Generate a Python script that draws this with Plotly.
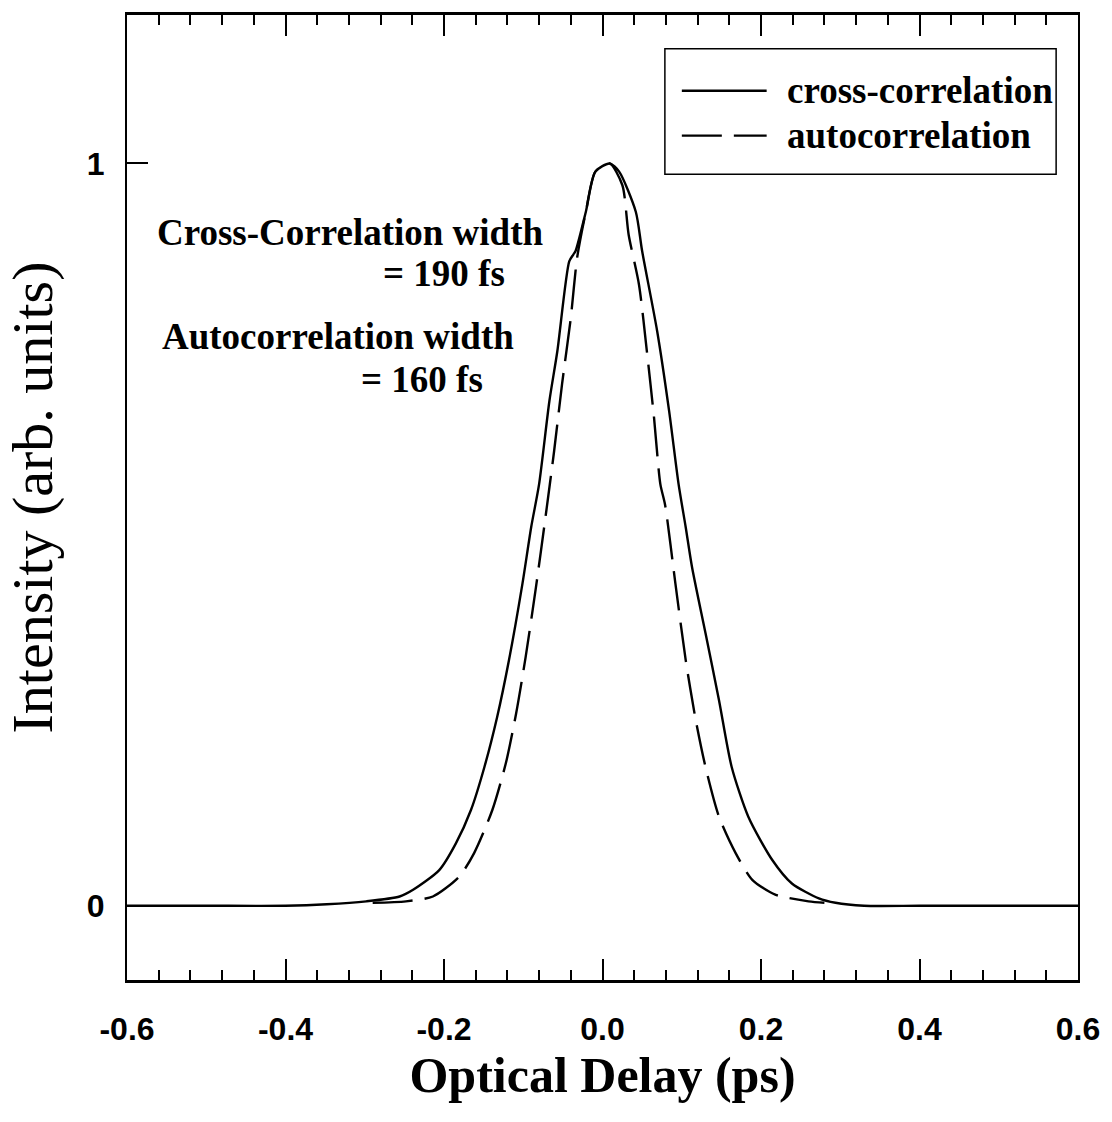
import plotly.graph_objects as go

# Cross-correlation (solid)
cross_x = [-0.60, -0.50, -0.40, -0.348, -0.298, -0.256, -0.239, -0.206, -0.185, -0.166,
           -0.149, -0.133, -0.118, -0.101, -0.090, -0.080, -0.067, -0.057, -0.042, -0.037,
           -0.034, -0.021, -0.009, 0.009, 0.021, 0.042, 0.050, 0.069, 0.084, 0.096,
           0.105, 0.113, 0.130, 0.147, 0.163, 0.184, 0.214, 0.239, 0.273, 0.294,
           0.33, 0.40, 0.50, 0.60]
cross_y = [0.0, 0.0, 0.0, 0.002, 0.006, 0.0125, 0.0215, 0.048, 0.084, 0.129,
           0.187, 0.254, 0.331, 0.434, 0.510, 0.568, 0.680, 0.747, 0.868, 0.877,
           0.882, 0.935, 0.989, 1.0, 0.989, 0.935, 0.882, 0.774, 0.667, 0.568,
           0.510, 0.456, 0.367, 0.277, 0.187, 0.120, 0.062, 0.030, 0.010, 0.004,
           0.0, 0.0, 0.0, 0.0]

# Autocorrelation (dashed)
auto_x = [-0.29, -0.248, -0.214, -0.181, -0.162, -0.139, -0.122, -0.109, -0.097, -0.084,
          -0.072, -0.061, -0.051, -0.040, -0.032, -0.021, -0.009, 0.009, 0.025, 0.033,
          0.046, 0.056, 0.065, 0.073, 0.079, 0.092, 0.105, 0.117, 0.130, 0.147,
          0.168, 0.189, 0.218, 0.260, 0.28]
auto_y = [0.004, 0.006, 0.0125, 0.039, 0.071, 0.129, 0.192, 0.259, 0.335, 0.429,
          0.523, 0.613, 0.703, 0.792, 0.873, 0.935, 0.989, 1.0, 0.971, 0.904,
          0.837, 0.747, 0.658, 0.568, 0.54, 0.434, 0.331, 0.254, 0.187, 0.120,
          0.071, 0.035, 0.015, 0.006, 0.004]

x_ticks = [-0.6, -0.4, -0.2, 0.0, 0.2, 0.4, 0.6]
x_ticktext = ["-0.6", "-0.4", "-0.2", "0.0", "0.2", "0.4", "0.6"]
y_ticks = [0, 1]
y_ticktext = ["0", "1"]

series_names = ["cross-correlation", "autocorrelation"]
notes = ["Cross-Correlation width", "= 190 fs", "Autocorrelation width", "= 160 fs"]

SERIF = "Liberation Serif, Times New Roman, serif"
SANS = "Liberation Sans, Arial, sans-serif"
DASH = "40px,12px"

fig = go.Figure()
fig.add_trace(go.Scatter(x=cross_x, y=cross_y, mode="lines", name=series_names[0],
                         line=dict(color="black", width=2.4, shape="spline", smoothing=0.7),
                         showlegend=False))
fig.add_trace(go.Scatter(x=auto_x, y=auto_y, mode="lines", name=series_names[1],
                         line=dict(color="black", width=2.4, dash=DASH, shape="spline", smoothing=0.7),
                         showlegend=False))

# custom legend box
L0, L1, B0, B1 = 0.5656, 0.977, 0.835, 0.965
fig.add_shape(type="rect", xref="paper", yref="paper", x0=L0, x1=L1, y0=B0, y1=B1,
              line=dict(color="black", width=1.5), fillcolor="white", layer="above")
row_y = [(980 - 88) / 968, (980 - 133) / 968]
lx0 = (683 - 127) / 953
lx1 = (768 - 127) / 953
tx = (786 - 127) / 953
for i, name in enumerate(series_names):
    fig.add_shape(type="line", xref="paper", yref="paper", x0=lx0, x1=lx1,
                  y0=row_y[i], y1=row_y[i], layer="above",
                  line=dict(color="black", width=2.4, dash="solid" if i == 0 else DASH))
    fig.add_annotation(xref="paper", yref="paper", x=tx, y=row_y[i], text=f"<b>{name}</b>",
                       showarrow=False, xanchor="left", yanchor="middle",
                       font=dict(family=SERIF, size=37, color="black"))

def px2x(px):
    return (px - 127) / 953
def py2y(py):
    return (980 - py) / 968

NOTE_SIZE = 37
fig.add_annotation(xref="paper", yref="paper", x=px2x(155), y=py2y(230), text=f"<b>{notes[0]}</b>",
                   showarrow=False, xanchor="left", yanchor="middle",
                   font=dict(family=SERIF, size=NOTE_SIZE, color="black"))
fig.add_annotation(xref="paper", yref="paper", x=px2x(508), y=py2y(271), text=f"<b>{notes[1]}</b>",
                   showarrow=False, xanchor="right", yanchor="middle",
                   font=dict(family=SERIF, size=NOTE_SIZE, color="black"))
fig.add_annotation(xref="paper", yref="paper", x=px2x(160), y=py2y(335), text=f"<b>{notes[2]}</b>",
                   showarrow=False, xanchor="left", yanchor="middle",
                   font=dict(family=SERIF, size=NOTE_SIZE, color="black"))
fig.add_annotation(xref="paper", yref="paper", x=px2x(486), y=py2y(378), text=f"<b>{notes[3]}</b>",
                   showarrow=False, xanchor="right", yanchor="middle",
                   font=dict(family=SERIF, size=NOTE_SIZE, color="black"))

fig.update_layout(
    width=1112, height=1122,
    margin=dict(l=127, r=32, t=12, b=142),
    paper_bgcolor="white", plot_bgcolor="white",
    showlegend=False,
)
fig.update_xaxes(
    range=[-0.6, 0.6], tickvals=x_ticks, ticktext=[f"<b>{t}</b>" for t in x_ticktext],
    ticks="inside", ticklen=21, tickwidth=2, tickcolor="black",
    minor=dict(dtick=0.04, tick0=-0.6, ticks="inside", ticklen=10, tickwidth=1.5, tickcolor="black"),
    showline=True, linecolor="black", linewidth=2.5, mirror="ticks",
    showgrid=False, zeroline=False,
    tickfont=dict(family=SANS, size=32, color="black"),
    ticklabelstandoff=19,
    title=dict(text="<b>Optical Delay (ps)</b>", font=dict(family=SERIF, size=50, color="black"),
               standoff=10),
)
fig.update_yaxes(
    range=[-0.1, 1.2], tickvals=y_ticks, ticktext=[f"<b>{t}</b>" for t in y_ticktext],
    ticks="inside", ticklen=21, tickwidth=2, tickcolor="black",
    showline=True, linecolor="black", linewidth=2, mirror=True,
    showgrid=False, zeroline=False,
    tickfont=dict(family=SANS, size=32, color="black"),
    ticklabelstandoff=14,
    title=dict(text="Intensity (arb. units)", font=dict(family=SERIF, size=58, color="black"),
               standoff=24),
)

fig.write_html("out.html")
